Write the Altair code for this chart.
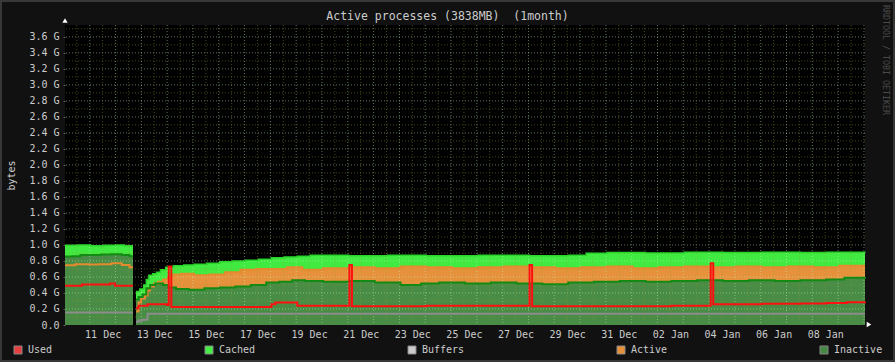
import altair as alt
import pandas as pd

# ---------------- data (values in G, time as day offsets from the graph start) -------------
START = "2023-12-10T01:00:00Z"
SPAN_DAYS = 31

title_text = "Active processes (3838MB)\u00a0 (1month)"
side_text = "RRDTOOL / TOBI OETIKER"
y_title = "bytes"
y_max = 3838 / 1024

legend_names = ["Used", "Cached", "Buffers", "Active", "Inactive"]
legend_colors = ["#E84040", "#44EE44", "#CCCCCC", "#E6913A", "#448844"]

label_days = ["2023-12-11", "2023-12-13", "2023-12-15", "2023-12-17", "2023-12-19",
              "2023-12-21", "2023-12-23", "2023-12-25", "2023-12-27", "2023-12-29",
              "2023-12-31", "2024-01-02", "2024-01-04", "2024-01-06", "2024-01-08"]
y_labels = [0.0, 0.2, 0.4, 0.6, 0.8, 1.0, 1.2, 1.4, 1.6, 1.8, 2.0, 2.2, 2.4, 2.6,
            2.8, 3.0, 3.2, 3.4, 3.6]
y_minor = [0.1, 0.3, 0.5, 0.7, 0.9, 1.1, 1.3, 1.5, 1.7, 1.9, 2.1, 2.3, 2.5, 2.7,
           2.9, 3.1, 3.3, 3.5, 3.7]

# Cached (top of bright green)
cached1_d = [0, 0.5, 1.0, 1.5, 2.0, 2.3, 2.635]
cached1_v = [0.995, 1.0, 0.99, 0.995, 1.0, 0.99, 0.99]
cached2_d = [2.751, 2.9, 3.05, 3.15, 3.25, 3.4, 3.55, 3.7, 3.9, 4.2, 4.6, 5.0, 5.5, 6.0,
             6.5, 7.0, 7.5, 8.0, 8.5, 9.0, 9.5, 11, 12.5, 14, 16, 18, 19.5, 20.2, 21,
             22.5, 24, 25.5, 27, 28.5, 29.5, 31]
cached2_v = [0.42, 0.45, 0.50, 0.57, 0.62, 0.64, 0.66, 0.69, 0.72, 0.74, 0.75, 0.76, 0.77,
             0.79, 0.80, 0.81, 0.82, 0.84, 0.85, 0.86, 0.87, 0.865, 0.87, 0.865, 0.87,
             0.865, 0.87, 0.895, 0.905, 0.90, 0.91, 0.905, 0.91, 0.905, 0.91, 0.915]

# Active (orange)
active1_d = [0, 0.4, 0.9, 1.3, 1.8, 2.2, 2.5, 2.635]
active1_v = [0.745, 0.76, 0.755, 0.76, 0.77, 0.75, 0.72, 0.72]
active2_d = [2.751, 2.85, 2.95, 3.1, 3.2, 3.3, 3.45, 3.6, 3.8, 4.0, 4.2, 4.5, 5.0, 5.6,
             6.2, 6.8, 7.4, 8.0, 8.6, 9.2, 10, 11, 12, 13, 14, 15, 16, 17, 18, 19, 20,
             21, 22, 23, 24, 25, 26, 27, 28, 29, 30, 31]
active2_v = [0.17, 0.28, 0.33, 0.37, 0.43, 0.48, 0.52, 0.54, 0.57, 0.60, 0.63, 0.64, 0.62,
             0.63, 0.66, 0.69, 0.70, 0.70, 0.72, 0.69, 0.71, 0.72, 0.71, 0.73, 0.72, 0.71,
             0.72, 0.73, 0.72, 0.71, 0.72, 0.73, 0.71, 0.72, 0.73, 0.72, 0.73, 0.72, 0.73,
             0.72, 0.74, 0.74]

# Inactive (dark green)
inactive1_d = [0, 0.3, 0.6, 1.0, 1.4, 1.8, 2.2, 2.5, 2.635]
inactive1_v = [0.855, 0.86, 0.875, 0.875, 0.88, 0.885, 0.875, 0.86, 0.86]
inactive2_d = [2.751, 2.85, 3.0, 3.15, 3.3, 3.5, 3.8, 4.0, 4.3, 4.8, 5.4, 6.0, 6.6, 7.2,
               7.8, 8.3, 8.8, 9.3, 10, 11, 12, 13, 13.8, 14.5, 15.5, 16.5, 17.5, 18.5,
               19.5, 20.5, 21.5, 22.5, 23.5, 24.5, 25.5, 26.5, 27.5, 28.5, 29.5, 30.2, 31]
inactive2_v = [0.32, 0.35, 0.38, 0.46, 0.50, 0.52, 0.50, 0.47, 0.45, 0.44, 0.46, 0.47, 0.48,
               0.50, 0.53, 0.54, 0.56, 0.55, 0.54, 0.55, 0.53, 0.50, 0.52, 0.53, 0.52, 0.53,
               0.52, 0.51, 0.53, 0.54, 0.55, 0.54, 0.55, 0.56, 0.55, 0.56, 0.55, 0.56, 0.57,
               0.59, 0.60]

# Used (red)
used1_d = [0, 0.66, 1.74, 1.94, 2.635]
used1_v = [0.49, 0.505, 0.52, 0.49, 0.49]
used2_d = [2.751, 2.85, 3.2, 3.95, 4.02, 4.12, 8.0, 8.15, 9.0, 11.02, 11.12, 14, 18.0,
           18.1, 21, 23.5, 25.02, 25.12, 27, 28.5, 29.5, 30.3, 31]
used2_v = [0.21, 0.24, 0.26, 0.25, 0.73, 0.225, 0.26, 0.28, 0.24, 0.75, 0.235, 0.24, 0.75,
           0.235, 0.235, 0.24, 0.77, 0.26, 0.265, 0.27, 0.275, 0.285, 0.29]

# Buffers (gray)
buffers1_d = [0, 2.635]
buffers1_v = [0.155, 0.155]
buffers2_d = [2.751, 2.85, 3.0, 3.2, 31]
buffers2_v = [0.04, 0.055, 0.065, 0.14, 0.14]

# ---------------- helpers -------------
base = pd.Timestamp(START)


def iso(days):
    return (base + pd.to_timedelta(days, unit="D")).strftime("%Y-%m-%dT%H:%M:%SZ")


def series(d1, v1, d2, v2):
    a = pd.DataFrame({"t": [iso(d) for d in d1], "v": v1, "seg": 1})
    b = pd.DataFrame({"t": [iso(d) for d in d2], "v": v2, "seg": 2})
    return pd.concat([a, b], ignore_index=True)


cached_df = series(cached1_d, cached1_v, cached2_d, cached2_v)
active_df = series(active1_d, active1_v, active2_d, active2_v)
inactive_df = series(inactive1_d, inactive1_v, inactive2_d, inactive2_v)
used_df = series(used1_d, used1_v, used2_d, used2_v)
buffers_df = series(buffers1_d, buffers1_v, buffers2_d, buffers2_v)

end_ts = base + pd.to_timedelta(SPAN_DAYS, unit="D")
midnights = pd.date_range(base.normalize() + pd.Timedelta(days=1), end_ts, freq="D")
noons = pd.date_range(base.normalize() + pd.Timedelta(hours=12), end_ts, freq="D")
vgrid_major = pd.DataFrame({"t": [m.strftime("%Y-%m-%dT%H:%M:%SZ") for m in midnights]})
vgrid_minor = pd.DataFrame({"t": [m.strftime("%Y-%m-%dT%H:%M:%SZ") for m in noons]})
hgrid_major = pd.DataFrame({"v": y_labels[1:]})
hgrid_minor = pd.DataFrame({"v": y_minor})


def dt(s, hours=0):
    p = pd.Timestamp(s)
    return alt.DateTime(year=p.year, month=p.month, date=p.day, hours=hours, utc=True)


FONT = "DejaVu Sans Mono"
TXT = "#CCCCCC"

xscale = alt.Scale(type="utc", domain=[dt(base.strftime("%Y-%m-%d"), base.hour),
                                       dt(end_ts.strftime("%Y-%m-%d"), end_ts.hour)])
xaxis = alt.Axis(values=[dt(d, 12) for d in label_days], format="%d %b", title=None,
                 labelFont=FONT, labelFontSize=10, labelColor=TXT, ticks=False,
                 domain=False, grid=False, labelPadding=4, labelFlush=False,
                 labelOverlap=False)
yscale = alt.Scale(domain=[0, y_max], nice=False, zero=True)
yaxis = alt.Axis(values=y_labels,
                 labelExpr="datum.value == 0 ? '0.0' : format(datum.value, '.1f') + ' G'",
                 labelFont=FONT, labelFontSize=10, labelColor=TXT, ticks=True, tickSize=2,
                 tickColor="#5A6A5A", domain=False, grid=False, labelPadding=4,
                 title=y_title,
                 titleFont=FONT, titleFontSize=10, titleColor=TXT, titleFontWeight="normal",
                 titleAngle=270, titleX=-54, titleY=150, titleAlign="center",
                 titleBaseline="middle")

X = alt.X("t:T", scale=xscale, axis=xaxis)
Y = alt.Y("v:Q", scale=yscale, axis=yaxis, stack=None)


def area(df, color):
    return alt.Chart(df).mark_area(interpolate="step-after", color=color).encode(
        x=X, y=Y, detail="seg:N")


def line(df, color, w):
    return alt.Chart(df).mark_line(interpolate="step-after", color=color,
                                   strokeWidth=w).encode(x=X, y=Y, detail="seg:N")


one = pd.DataFrame({"a": [0]})

border = alt.Chart(one).mark_rect(filled=False, stroke="#383838", strokeWidth=2).encode(
    x=alt.value(-64), x2=alt.value(829), y=alt.value(-24), y2=alt.value(336))

grid_minor_v = alt.Chart(vgrid_minor).mark_rule(color="#9A9A30", opacity=0.45,
                                                strokeDash=[1, 2]).encode(x=X)
grid_major_v = alt.Chart(vgrid_major).mark_rule(color="#C8FFC8", opacity=0.45,
                                                strokeDash=[1, 2]).encode(x=X)
grid_minor_h = alt.Chart(hgrid_minor).mark_rule(color="#9A9A30", opacity=0.45,
                                                strokeDash=[1, 2]).encode(y=Y)
grid_major_h = alt.Chart(hgrid_major).mark_rule(color="#C8FFC8", opacity=0.45,
                                                strokeDash=[1, 2]).encode(y=Y)

legend_df = pd.DataFrame({"name": legend_names})
legend_layer = alt.Chart(legend_df).mark_square(opacity=0).encode(
    x=alt.value(0), y=alt.value(0),
    color=alt.Color("name:N", sort=legend_names,
                    scale=alt.Scale(domain=legend_names, range=legend_colors),
                    legend=alt.Legend(orient="none", legendX=-52, legendY=320,
                                      direction="horizontal", columns=5,
                                      columnPadding=150, symbolType="square",
                                      symbolSize=64, symbolStrokeColor="#888888",
                                      symbolStrokeWidth=1, symbolOpacity=1,
                                      labelFont=FONT, labelFontSize=10, labelColor=TXT,
                                      labelOffset=5, title=None, padding=0)))

title_mark = alt.Chart(one).mark_text(text=title_text, font=FONT, fontSize=11.5,
                                      color=TXT, align="center",
                                      baseline="alphabetic").encode(
    x=alt.value(382.5), y=alt.value(-5))
side_mark = alt.Chart(one).mark_text(text=side_text, font=FONT, fontSize=8.3,
                                     color="#4A4A4A", align="center", baseline="middle",
                                     angle=90).encode(x=alt.value(820), y=alt.value(35))
arrow_up = alt.Chart(one).mark_point(shape="triangle-up", filled=True, color="#FFFFFF",
                                     size=28, opacity=1).encode(
    x=alt.value(0), y=alt.value(-4.5))
arrow_right = alt.Chart(one).mark_point(shape="triangle-right", filled=True,
                                        color="#FFFFFF", size=28, opacity=1).encode(
    x=alt.value(804), y=alt.value(299.5))

chart = alt.layer(
    border,
    area(cached_df, "#40EA40"),
    area(active_df, "#E6913C"),
    area(inactive_df, "#488C46"),
    grid_minor_v, grid_minor_h, grid_major_v, grid_major_h,
    line(cached_df, "#2BD42B", 1.5),
    line(active_df, "#E58A2E", 2),
    line(inactive_df, "#138A13", 2),
    line(buffers_df, "#8C8C8C", 2),
    line(used_df, "#FF1010", 2),
    legend_layer, title_mark, side_mark, arrow_up, arrow_right,
).properties(
    width=800, height=300, autosize="none", background="#111111",
    padding={"left": 65, "top": 25, "right": 30, "bottom": 37},
).configure_view(fill="#000000", stroke=None)

chart.save("out.html", embed_options={"renderer": "svg", "actions": False})
